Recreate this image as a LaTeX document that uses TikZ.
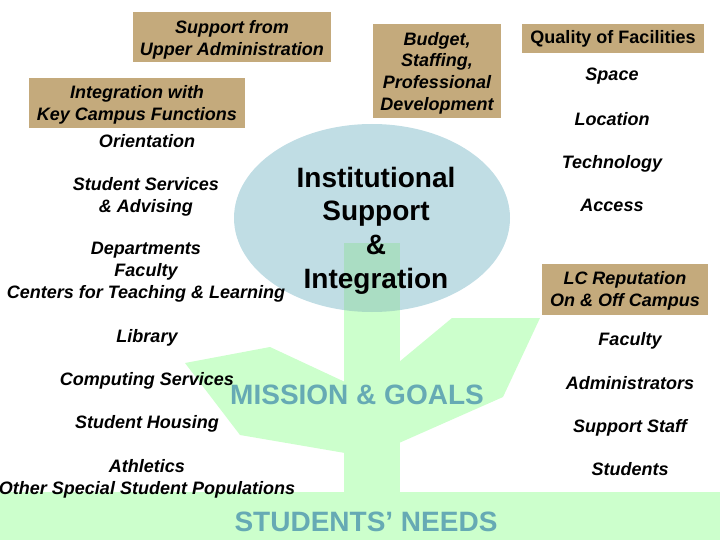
\documentclass[tikz,border=0pt]{standalone}
\usepackage{fontspec}
\setmainfont{Liberation Sans}
\newlength{\du}
\setlength{\du}{1pt}
\newcommand{\toppad}[1]{\rule{0pt}{#1}}
\definecolor{boxcolor}{rgb}{0.769, 0.667, 0.486}
\definecolor{ovalcolor}{rgb}{0.753, 0.867, 0.894}
\definecolor{stemcolor}{rgb}{0.800, 1.000, 0.800}
\definecolor{overlapcolor}{rgb}{0.667, 0.867, 0.765}
\definecolor{tealcolor}{rgb}{0.400, 0.667, 0.706}
\tikzset{
  itembox/.style={fill=boxcolor, inner sep=0pt, align=center,
    font=\fontsize{18}{22}\selectfont\bfseries\itshape},
  itemtext/.style={inner sep=0pt, align=center,
    font=\fontsize{18}{22}\selectfont\bfseries\itshape},
  bigtext/.style={inner sep=0pt, align=center, text=tealcolor,
    font=\fontsize{28}{34}\selectfont\bfseries},
}

\begin{document}
\begin{tikzpicture}[yscale=-1]
\useasboundingbox (0\du,0\du) rectangle (720\du,540\du);
% ground and plant
\fill[stemcolor] (0\du,492\du) rectangle (720\du,540\du);
\fill[ovalcolor] (372\du,218\du) ellipse [x radius=138\du, y radius=94\du];
\fill[stemcolor] (344\du,243\du) rectangle (400\du,492\du);
\begin{scope}
\clip (372\du,218\du) ellipse [x radius=138\du, y radius=94\du];
\fill[overlapcolor] (344\du,243\du) rectangle (400\du,320\du);
\end{scope}
\fill[stemcolor] (185\du,363\du)--(270\du,347\du)--(345\du,382\du)--(345\du,453\du)--(240\du,435\du)--cycle;
\fill[stemcolor] (399\du,362\du)--(452\du,318\du)--(540\du,318\du)--(503\du,397\du)--(399\du,443\du)--cycle;
% setfont left to latex
\node[inner sep=0pt, align=center, font=\fontsize{28}{33.7}\selectfont\bfseries] (institutional) at (376\du,230.5\du){Institutional\\Support\\\&\\Integration};
\node[bigtext] (mission) at (357\du,395\du){MISSION \& GOALS};
\node[bigtext] (needs) at (366\du,522\du){STUDENTS’ NEEDS};
% boxes
\node[itembox, minimum width=198\du, minimum height=50\du] (upperadmin) at (232\du,37\du){\toppad{18.3pt}Support from\\Upper Administration};
\node[itembox, minimum width=216\du, minimum height=50\du] (keycampus) at (137\du,103\du){\toppad{17.3pt}Integration with\\Key Campus Functions};
\node[itembox, minimum width=128\du, minimum height=94\du, font=\fontsize{18}{21.7}\selectfont\bfseries\itshape] (budget) at (437\du,71\du){\toppad{17.3pt}Budget,\\Staffing,\\Professional\\Development};
\node[itembox, minimum width=182\du, minimum height=29\du, font=\fontsize{18}{22}\selectfont\bfseries] (facilities) at (613\du,38.5\du){Quality of Facilities};
\node[itembox, minimum width=166\du, minimum height=51\du] (reputation) at (625\du,289.5\du){\toppad{16.3pt}LC Reputation\\On \& Off Campus};
% left column
\node[itemtext] (orientation) at (147\du,141\du){Orientation};
\node[itemtext] (services) at (146\du,196.5\du){Student Services\\\& Advising};
\node[itemtext] (departments) at (146\du,272.5\du){Departments\\Faculty\\Centers for Teaching \& Learning};
\node[itemtext] (library) at (147\du,337.5\du){Library};
\node[itemtext] (computing) at (147\du,380.5\du){Computing Services};
\node[itemtext] (housing) at (147\du,423.5\du){Student Housing};
\node[itemtext] (athletics) at (147\du,478.5\du){Athletics\\Other Special Student Populations};
% right column
\node[itemtext] (space) at (612\du,76.5\du){Space};
\node[itemtext] (location) at (612\du,119.5\du){Location};
\node[itemtext] (technology) at (612\du,163.5\du){Technology};
\node[itemtext] (access) at (612\du,205.5\du){Access};
\node[itemtext] (faculty) at (630\du,340.5\du){Faculty};
\node[itemtext] (administrators) at (630\du,383.5\du){Administrators};
\node[itemtext] (staff) at (630\du,427.5\du){Support Staff};
\node[itemtext] (students) at (630\du,469.5\du){Students};
\end{tikzpicture}
\end{document}
